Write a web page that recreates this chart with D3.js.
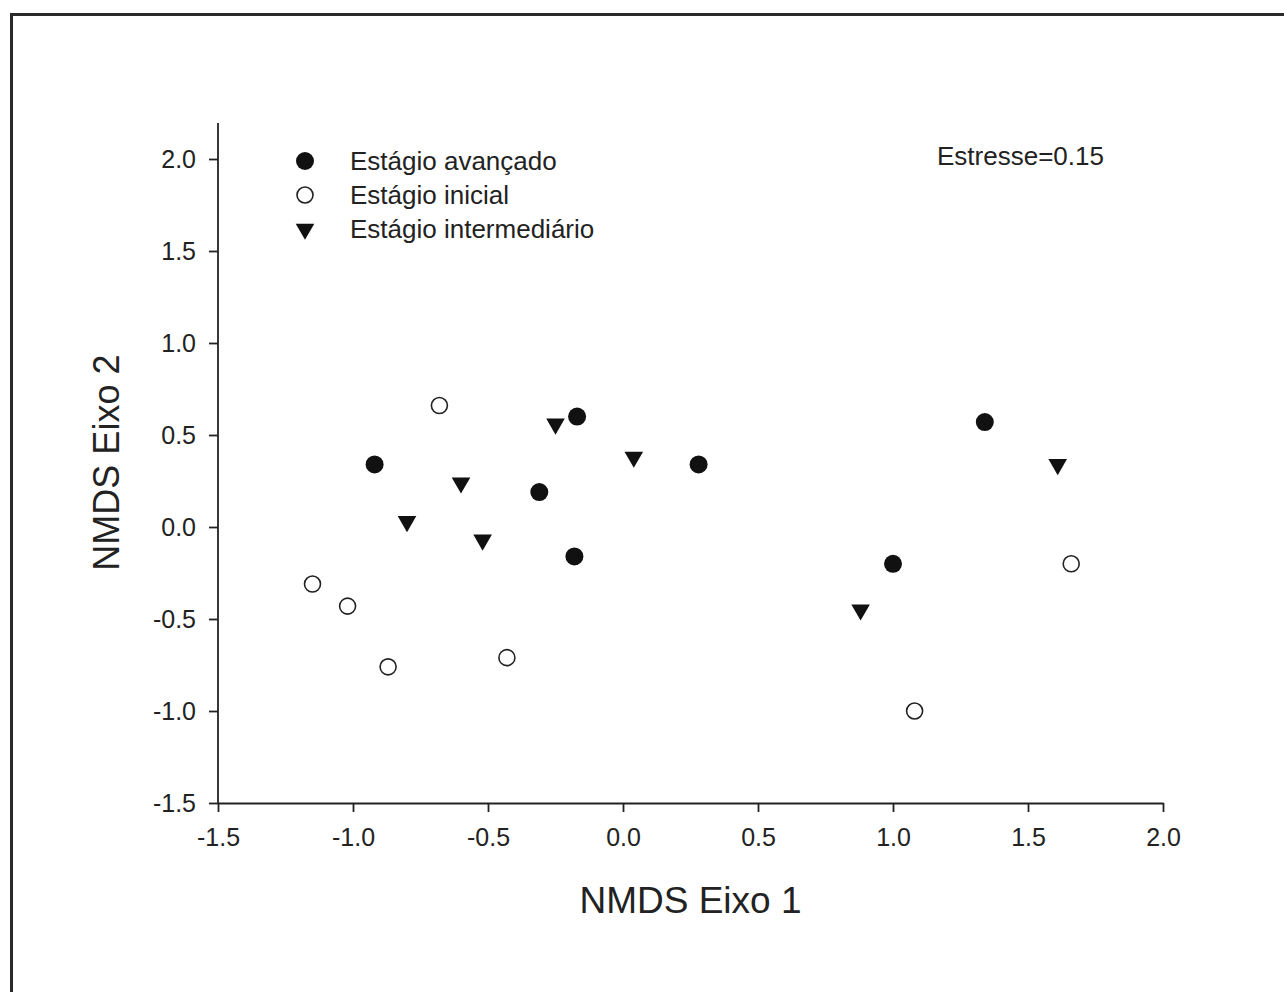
<!DOCTYPE html>
<html>
<head>
<meta charset="utf-8">
<script src="https://d3js.org/d3.v7.min.js"></script>
<style>
  body { margin: 0; background: #fff; }
  svg text { font-family: "Liberation Sans", Arial, sans-serif; fill: #222; }
</style>
</head>
<body>
<svg id="chart" width="1284" height="992"></svg>
<script>
// NMDS scores
const avancadoX = [-0.92, -0.17, -0.31, -0.18, 0.28, 1.00, 1.34];
const avancadoY = [0.34, 0.60, 0.19, -0.16, 0.34, -0.20, 0.57];
const inicialX = [-0.68, -1.15, -1.02, -0.87, -0.43, 1.08, 1.66];
const inicialY = [0.66, -0.31, -0.43, -0.76, -0.71, -1.00, -0.20];
const intermedX = [-0.25, -0.60, -0.80, -0.52, 0.04, 0.88, 1.61];
const intermedY = [0.56, 0.24, 0.03, -0.07, 0.38, -0.45, 0.34];
const groups = ['Estágio avançado', 'Estágio inicial', 'Estágio intermediário'];
const ticks = [-1.5, -1.0, -0.5, 0.0, 0.5, 1.0, 1.5, 2.0];
const stress = 'Estresse=0.15';

const svg = d3.select('#chart');

// outer frame (runs off the right and bottom edge like the scan)
svg.append('rect')
  .attr('x', 11.5).attr('y', 14.5)
  .attr('width', 1300).attr('height', 1000)
  .attr('fill', 'none').attr('stroke', '#2a2a2a').attr('stroke-width', 3);

const x = d3.scaleLinear().domain([-1.5, 2.0]).range([218, 1163]);
const y = d3.scaleLinear().domain([-1.5, 2.0]).range([803, 159]);

// plain hyphen for negatives, as in the original
const fmt = d => d3.format('.1f')(d).replace('\u2212', '-');

const gx = svg.append('g')
  .attr('transform', 'translate(0,' + y(-1.5) + ')')
  .call(d3.axisBottom(x).tickValues(ticks).tickFormat(fmt).tickSize(9).tickSizeOuter(0).tickPadding(16));
const gy = svg.append('g')
  .attr('transform', 'translate(' + x(-1.5) + ',0)')
  .call(d3.axisLeft(y).tickValues(ticks).tickFormat(fmt).tickSize(9).tickSizeOuter(0).tickPadding(13));

// y axis runs a little above 2.0
gy.select('.domain').attr('d', 'M0,' + y(-1.5) + 'V' + (y(2.0) - 36));

[gx, gy].forEach(g => {
  g.attr('font-size', 25).attr('font-family', '"Liberation Sans", Arial, sans-serif');
  g.selectAll('path, line').attr('stroke', '#222').attr('stroke-width', 1.8);
  g.selectAll('text').style('fill', '#222');
});
gx.selectAll('text').attr('dy', '0.72em');

// axis titles
svg.append('text')
  .attr('x', (x(-1.5) + x(2.0)) / 2).attr('y', 913)
  .attr('text-anchor', 'middle').attr('font-size', 37)
  .text('NMDS Eixo 1');
svg.append('text')
  .attr('transform', 'translate(119,' + y(0.35) + ') rotate(-90)')
  .attr('text-anchor', 'middle').attr('font-size', 36)
  .text('NMDS Eixo 2');

const tri = d3.symbol().type(d3.symbolTriangle).size(150);

function drawMark(sel, i) {
  if (i === 0) {
    sel.append('circle').attr('r', 9).attr('fill', '#111');
  } else if (i === 1) {
    sel.append('circle').attr('r', 8).attr('fill', '#fff')
      .attr('stroke', '#222').attr('stroke-width', 1.6);
  } else {
    sel.append('path').attr('d', tri).attr('transform', 'rotate(180)').attr('fill', '#111');
  }
}

const series = [
  d3.zip(avancadoX, avancadoY),
  d3.zip(inicialX, inicialY),
  d3.zip(intermedX, intermedY)
];

series.forEach((pts, i) => {
  svg.append('g').selectAll('g')
    .data(pts)
    .join('g')
    .attr('transform', d => 'translate(' + x(d[0]) + ',' + y(d[1]) + ')')
    .each(function () { drawMark(d3.select(this), i); });
});

// legend
const leg = svg.append('g').attr('transform', 'translate(305,161)');
groups.forEach((name, i) => {
  const row = leg.append('g').attr('transform', 'translate(0,' + (i * 34) + ')');
  drawMark(row, i);
  row.append('text').attr('x', 45).attr('y', 9).attr('font-size', 26).text(name);
});

svg.append('text')
  .attr('x', 937).attr('y', 165)
  .attr('font-size', 26)
  .text(stress);
</script>
</body>
</html>
